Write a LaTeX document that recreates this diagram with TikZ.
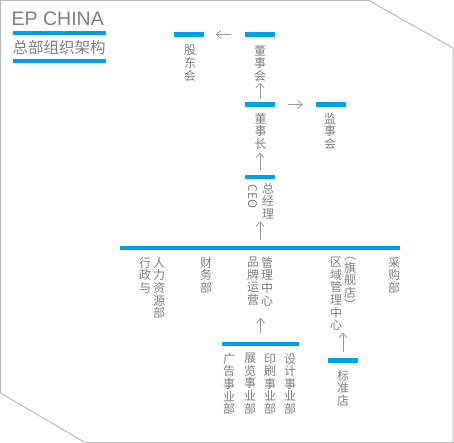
\documentclass[tikz,border=0pt]{standalone}
\usepackage{fontspec}
\setmainfont{Liberation Sans}
\newfontfamily\cjk{Noto Sans CJK SC}
\usetikzlibrary{arrows.meta,positioning}
\definecolor{epblue}{RGB}{0,160,233}
\definecolor{txtgray}{RGB}{125,125,125}
\definecolor{arrowgray}{RGB}{150,150,150}
\definecolor{framegray}{RGB}{185,185,185}

\begin{document}
\begin{tikzpicture}[x=1pt,y=-1pt,
    bar/.style={fill=epblue,inner sep=0,minimum height=4.5pt,minimum width=30pt},
    vtext/.style={anchor=north,inner sep=0,align=center,text=txtgray,
      font=\cjk\fontsize{12}{12.6}\selectfont},
    orgarrow/.style={draw=arrowgray,line width=0.8pt,-{Straight Barb[length=4.5pt,width=8pt]}}]
  \useasboundingbox (0,0) rectangle (454,443);
  \draw[framegray,line width=1pt] (0.5,0.5) -- (369,0.5) -- (453,48) -- (453,442.5)
    -- (85,442.5) -- (0.5,393) -- cycle;

  % title
  \node[anchor=base west,inner sep=0,text=txtgray,font=\fontsize{19.5}{20}\selectfont] (ep) at (11.5,26) {EP CHINA};
  \node[bar,minimum width=93pt] (ep-bar) at (59.5,33) {};
  \node[anchor=north west,inner sep=0,text=txtgray,font=\cjk\fontsize{15.5}{16}\selectfont] (zb) at (12.5,40) {总部组织架构};
  \node[bar,minimum width=93pt] (zb-bar) at (59.5,61) {};

  % top levels
  \node[bar] (gd) at (188.5,34.5) {};
  \node[vtext] (gd-t) at (190,45) {股\\东\\会};
  \node[bar] (dsh) at (260,34.5) {};
  \node[vtext] (dsh-t) at (260,45) {董\\事\\会};
  \node[bar] (dsz) at (260,104.5) {};
  \node[vtext] (dsz-t) at (260.5,113) {董\\事\\长};
  \node[bar] (jsh) at (331,104.5) {};
  \node[vtext] (jsh-t) at (330,113) {监\\事\\会};
  \node[bar] (ceo) at (260,177) {};
  \node[rotate=-90,anchor=west,inner sep=0,text=txtgray,font=\cjk\fontsize{12}{12}\selectfont] (ceo-en) at (252.5,184.5) {CEO};
  \node[vtext] (ceo-t) at (268,183) {总\\经\\理};

  \draw[orgarrow,shorten <=14pt,shorten >=12pt] (dsh.west) -- (gd.east);
  \draw[orgarrow,shorten <=3pt,shorten >=1pt] (dsz.north) -- (dsh-t.south);
  \draw[orgarrow,shorten <=13pt,shorten >=13pt] (dsz.east) -- (jsh.west);
  \draw[orgarrow,shorten <=5pt,shorten >=3pt] (ceo.north) -- (ceo.north |- dsz-t.south);

  % departments
  \node[bar,minimum width=280pt] (bm) at (260,248) {};
  \draw[orgarrow,shorten <=6pt,shorten >=2pt] (bm.north) -- (bm.north |- ceo-t.south);
  \node[vtext] (xz) at (145,257) {行\\政\\与};
  \node[vtext] (rl) at (159,257) {人\\力\\资\\源\\部};
  \node[vtext] (cw) at (206,257) {财\\务\\部};
  \node[vtext] (pp) at (253,257) {品\\牌\\运\\营};
  \node[vtext] (gl) at (267,257) {管\\理\\中\\心};
  \node[vtext] (qy) at (336,257) {区\\域\\管\\理\\中\\心};
  \node[vtext] (qj) at (350,257) {︵\\旗\\舰\\店\\︶};
  \node[vtext] (cg) at (394,257) {采\\购\\部};

  % business units
  \node[bar,minimum width=77pt] (sy) at (260.5,344) {};
  \draw[orgarrow,shorten <=9pt,shorten >=12pt] (sy.north) -- (sy.north |- pp.south);
  \node[vtext] (gg) at (229,353) {广\\告\\事\\业\\部};
  \node[vtext] (zl) at (250,353) {展\\览\\事\\业\\部};
  \node[vtext] (ys) at (270,353) {印\\刷\\事\\业\\部};
  \node[vtext] (sj) at (290,353) {设\\计\\事\\业\\部};

  \node[bar] (bzd) at (343,360.5) {};
  \draw[orgarrow,shorten <=6pt,shorten >=2pt] (bzd.north) -- (bzd.north |- qy.south);
  \node[vtext] (bzd-t) at (343,370) {标\\准\\店};
\end{tikzpicture}
\end{document}
